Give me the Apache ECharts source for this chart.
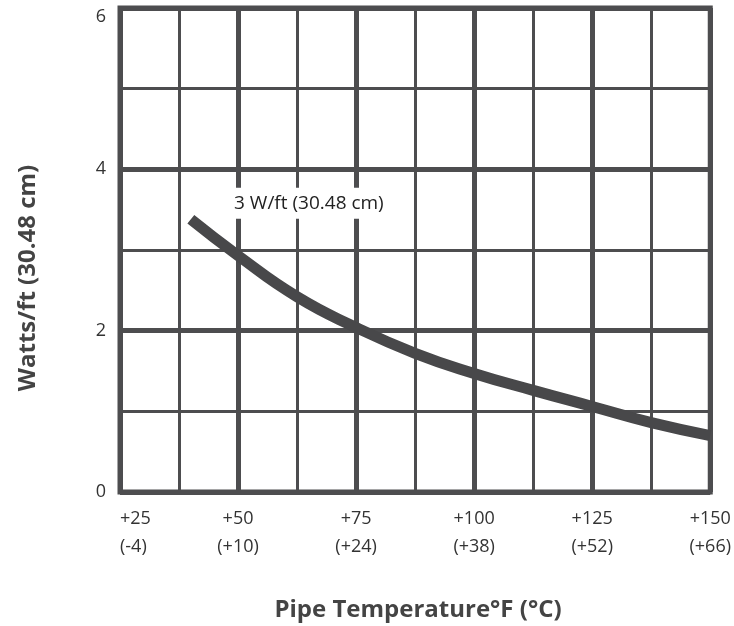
<!DOCTYPE html>
<html>
<head>
<meta charset="utf-8">
<script src="https://cdn.jsdelivr.net/npm/echarts@6/dist/echarts.min.js"></script>
<style>html,body{margin:0;padding:0;background:#fff;}#c{width:734px;height:626px;}</style>
</head>
<body>
<div id="c"></div>
<script>
const tempF = [40, 50, 62.5, 75, 87.5, 100, 112.5, 125, 137.5, 150];
const watts = [3.38, 2.93, 2.42, 2.04, 1.72, 1.47, 1.26, 1.06, 0.86, 0.70];
const tickF = [25, 50, 75, 100, 125, 150];
const tickC = ['-4', '+10', '+24', '+38', '+52', '+66'];
const seriesName = '3 W/ft (30.48 cm)';
const xTitle = 'Pipe Temperature°F (°C)';
const yTitle = 'Watts/ft (30.48 cm)';

const gridColor = '#4d4d4f';
const chart = echarts.init(document.getElementById('c'));
chart.setOption({
  animation: false,
  grid: {left: 120, right: 19, top: 8, bottom: 134, show: true, borderColor: gridColor, borderWidth: 5},
  xAxis: {
    type: 'value', min: 25, max: 150, interval: 25,
    axisLine: {show: false}, axisTick: {show: false},
    splitLine: {show: true, lineStyle: {color: gridColor, width: 5}},
    minorTick: {show: false, splitNumber: 2},
    minorSplitLine: {show: true, lineStyle: {color: gridColor, width: 3}},
    axisLabel: {
      margin: 13, fontSize: 18, lineHeight: 28, color: '#333', fontFamily: 'Open Sans',
      alignMinLabel: 'left',
      formatter: v => { const i = tickF.indexOf(v); return i < 0 ? '' : '+' + v + '\n(' + tickC[i] + ')'; }
    }
  },
  yAxis: {
    type: 'value', min: 0, max: 6, interval: 2,
    axisLine: {show: false}, axisTick: {show: false},
    splitLine: {show: true, lineStyle: {color: gridColor, width: 5}},
    minorTick: {show: false, splitNumber: 2},
    minorSplitLine: {show: true, lineStyle: {color: gridColor, width: 3}},
    axisLabel: {margin: 14, fontSize: 18, color: '#333', fontFamily: 'Open Sans', verticalAlignMaxLabel: 'top'}
  },
  graphic: [
    {type: 'text', x: 418, y: 610, style: {text: xTitle, font: 'bold 24px "Open Sans"', fill: '#444', align: 'center', verticalAlign: 'middle'}},
    {type: 'text', x: 28, y: 278, rotation: Math.PI / 2, style: {text: yTitle, font: 'bold 24px "Open Sans"', fill: '#444', align: 'center', verticalAlign: 'middle'}}
  ],
  series: [{
    type: 'line', name: seriesName, smooth: true, symbol: 'none',
    data: tempF.map((x, i) => [x, watts[i]]),
    lineStyle: {color: '#48484a', width: 11, cap: 'butt'},
    z: 5,
    markPoint: {
      symbol: 'rect', symbolSize: 0,
      data: [{coord: [65, 3.58]}],
      label: {show: true, position: 'inside', formatter: seriesName, fontSize: 19, color: '#222', fontFamily: 'Open Sans', backgroundColor: '#fff', padding: [6, 2]}
    }
  }]
});
</script>
</body>
</html>
